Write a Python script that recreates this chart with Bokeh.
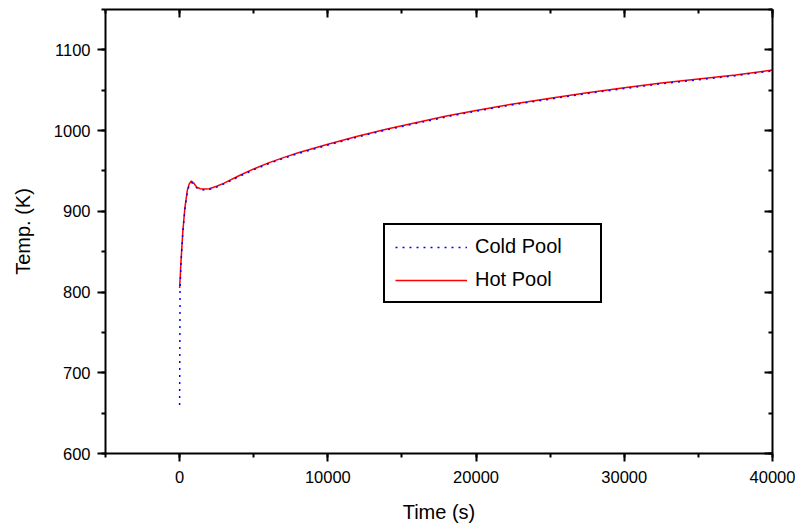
from bokeh.plotting import figure
from bokeh.models import Range1d, LinearAxis, SingleIntervalTicker, Legend, LegendItem
from bokeh.embed import file_html
from bokeh.resources import INLINE

# ---- data ----
time_hot = [0, 100, 220, 360, 520, 650, 790, 950, 1150, 1400, 1700, 2000, 2500, 3000,
            4000, 5000, 6000, 7000, 8000, 10000, 12000, 14000, 16000, 18000, 20000,
            22500, 25000, 27500, 30000, 32500, 35000, 37500, 40000]
temp_hot = [805, 840, 876, 905, 926, 934, 937.5, 935, 930, 928, 927.5, 928, 931, 935,
            944, 952.5, 960, 966.5, 972.5, 983, 993, 1002, 1010, 1018, 1025,
            1033, 1040, 1047, 1053, 1059, 1064, 1069, 1075]
time_cold = [0, 30, 100, 220, 360, 520, 650, 790, 950, 1150, 1400, 1700, 2000, 2500, 3000,
             4000, 5000, 6000, 7000, 8000, 10000, 12000, 14000, 16000, 18000, 20000,
             22500, 25000, 27500, 30000, 32500, 35000, 37500, 40000]
temp_cold = [660, 803, 838, 874, 903, 924, 932.5, 936, 934, 929, 927, 926.5, 927, 930, 934,
             943, 951.5, 959, 965.5, 971.5, 982, 992, 1001, 1009, 1017, 1024,
             1032, 1039, 1046, 1052, 1058, 1063, 1068, 1074]
x_start, x_end, x_step = -5000, 40000, 10000
y_start, y_end, y_step = 600, 1150, 100

FONT = "Liberation Sans"

p = figure(width=795, height=525, x_range=Range1d(x_start, x_end), y_range=Range1d(y_start, y_end),
           output_backend="svg", toolbar_location=None,
           min_border_left=105, min_border_right=23, min_border_top=9, min_border_bottom=72,
           x_axis_label="Time (s)", y_axis_label="Temp. (K)")
p.outline_line_color = None
p.grid.visible = False
p.background_fill_color = "white"
p.border_fill_color = "white"

p.xaxis.ticker = SingleIntervalTicker(interval=x_step, num_minor_ticks=2)
p.yaxis.ticker = SingleIntervalTicker(interval=y_step, num_minor_ticks=2)

for ax in p.xaxis + p.yaxis:
    ax.axis_line_width = 2
    ax.major_tick_line_width = 2
    ax.minor_tick_line_width = 2
    ax.major_tick_out = 8
    ax.major_tick_in = 0
    ax.minor_tick_out = 4
    ax.minor_tick_in = 0
    ax.major_label_text_font = FONT
    ax.major_label_text_font_size = "16.5px"
    ax.major_label_text_color = "black"
    ax.axis_label_text_font = FONT
    ax.axis_label_text_font_size = "20px"
    ax.axis_label_text_font_style = "normal"
    ax.axis_label_text_color = "black"
p.xaxis.major_label_standoff = 9
p.xaxis.axis_label_standoff = 15
p.yaxis.major_label_standoff = 7
p.yaxis.axis_label_standoff = 17

top = LinearAxis(ticker=SingleIntervalTicker(interval=x_step, num_minor_ticks=2))
right = LinearAxis(ticker=SingleIntervalTicker(interval=y_step, num_minor_ticks=2))
for ax in (top, right):
    ax.axis_line_width = 2
    ax.major_tick_line_width = 2
    ax.minor_tick_line_width = 2
    ax.major_tick_out = 0
    ax.major_tick_in = 8
    ax.minor_tick_out = 0
    ax.minor_tick_in = 4
    ax.major_label_text_color = None
    ax.major_label_text_font_size = "1px"
    ax.major_label_standoff = 0
p.add_layout(top, "above")
p.add_layout(right, "right")

r_hot = p.line(time_hot, temp_hot, line_color="red", line_width=1.5)
r_cold = p.line(time_cold, temp_cold, line_color="blue", line_width=1.5, line_dash="2 5")

legend = Legend(items=[LegendItem(label="Cold Pool", renderers=[r_cold]),
                       LegendItem(label="Hot Pool", renderers=[r_hot])],
                location=(278, 150))
legend.label_text_font = FONT
legend.label_text_font_size = "20px"
legend.label_text_color = "black"
legend.padding = 10
legend.spacing = 10
legend.glyph_width = 72
legend.label_standoff = 8
legend.label_width = 115
legend.border_line_color = "black"
legend.border_line_width = 2
legend.border_line_alpha = 1
legend.background_fill_alpha = 1
p.add_layout(legend, "center")

open("out.html", "w").write(file_html(p, INLINE))
